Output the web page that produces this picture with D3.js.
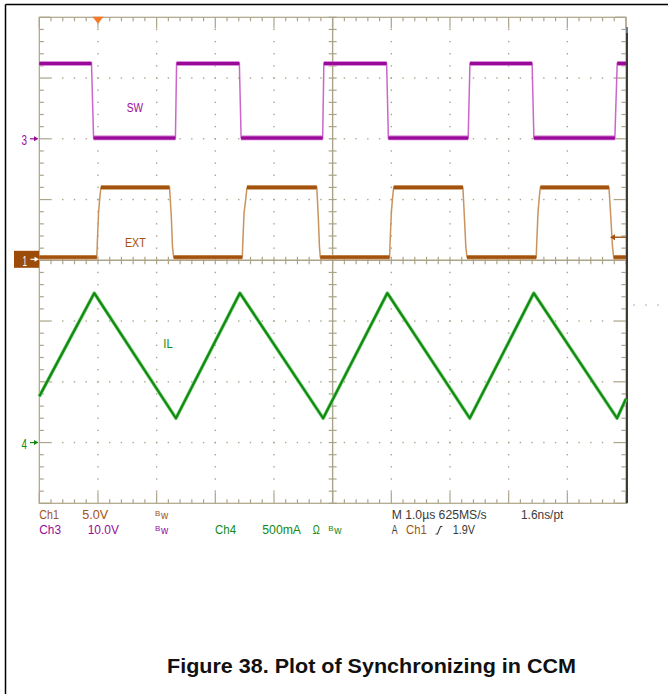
<!DOCTYPE html>
<html>
<head>
<meta charset="utf-8">
<script src="https://cdn.jsdelivr.net/npm/d3@7"></script>
<style>
  body { margin: 0; background: #fff; }
  svg { display: block; }
  text { font-family: "Liberation Sans", Arial, sans-serif; }
</style>
</head>
<body>
<script>
//Time base: 1.0 us per division, 10 divisions across
var timeDomain = [0, 10];

//Ch3 - SW node voltage (V), 10 V/div
var swTime = [0, 0.89, 0.925, 2.32, 2.34, 3.41, 3.44, 4.83, 4.85, 5.92, 5.95, 7.31, 7.34, 8.40, 8.43, 9.81, 9.85, 10];
var swVolt = [12.4, 12.4, 0.15, 0.15, 12.4, 12.4, 0.15, 0.15, 12.4, 12.4, 0.15, 0.15, 12.4, 12.4, 0.15, 0.15, 12.4, 12.4];

//Ch1 - EXT sync clock (V), 5 V/div
var extTime = [0, 0.98, 0.99, 1.01, 1.03, 1.05, 2.22, 2.25, 2.27, 2.29,
               3.46, 3.47, 3.49, 3.52, 3.54, 4.73, 4.755, 4.775, 4.79,
               5.97, 5.98, 6.00, 6.02, 6.04, 7.22, 7.245, 7.27, 7.29,
               8.47, 8.48, 8.50, 8.52, 8.54, 9.71, 9.74, 9.77, 9.79, 10];
var extVolt = [0.25, 0.25, 1.6, 3.9, 5.1, 6.0, 6.0, 3.6, 1.1, 0.25,
               0.25, 1.6, 3.9, 5.1, 6.0, 6.0, 3.6, 1.1, 0.25,
               0.25, 1.6, 3.9, 5.1, 6.0, 6.0, 3.6, 1.1, 0.25,
               0.25, 1.6, 3.9, 5.1, 6.0, 6.0, 3.6, 1.1, 0.25, 0.25];

//Ch4 - inductor current IL (A), 500 mA/div
var ilTime = [0, 0.937, 2.329, 3.419, 4.838, 5.932, 7.337, 8.428, 9.847, 10];
var ilAmp  = [0.38, 1.23, 0.20, 1.23, 0.20, 1.23, 0.20, 1.23, 0.20, 0.36];

//Channel settings: scale per division and ground offset (divisions from centre)
var channels = {
    ch1: {perDiv: 5,   offset: 0,  dark: "#a3520f", light: "#c9935e"},
    ch3: {perDiv: 10,  offset: 2,  dark: "#990a99", light: "#cc66cc"},
    ch4: {perDiv: 0.5, offset: -3, dark: "#128a12", light: "#7fd37f"}
};

var triggerLevel = 1.9;   //V on Ch1
var triggerTime = 1.0;    //us

//Status read-out lines
var statusRow1 = [
    {text: "Ch1", x: 39.3, w: 19.5, c: "ch1"},
    {text: "5.0V", x: 82.3, w: 26, c: "ch1"},
    {text: "M 1.0\u00b5s 625MS/s", x: 391.7, w: 95, c: "k"},
    {text: "1.6ns/pt", x: 521, w: 42.3, c: "k"}
];
var statusRow2 = [
    {text: "Ch3", x: 39.3, w: 21.7, c: "ch3"},
    {text: "10.0V", x: 87.7, w: 31.3, c: "ch3"},
    {text: "Ch4", x: 215, w: 21, c: "ch4"},
    {text: "500mA", x: 262.3, w: 38.7, c: "ch4"},
    {text: "\u03a9", x: 312.7, w: 7, c: "ch4"},
    {text: "A", x: 391.7, w: 5.8, c: "k"},
    {text: "Ch1", x: 406, w: 20.7, c: "ch1"},
    {text: "1.9V", x: 452.7, w: 22.3, c: "k"}
];

//Graticule placement
var W = 668, H = 694;
var grid = {left: 39.3, right: 626, top: 17.3, bottom: 503.3};
var tan = "#aca488";
var darkText = "#3a3a3a";

const svg = d3.select("body").append("svg")
    .attr("width", W).attr("height", H)
    .attr("viewBox", [0, 0, W, H]);

//Scales
const x = d3.scaleLinear().domain(timeDomain).range([grid.left, grid.right]);
const yDiv = d3.scaleLinear().domain([4, -4]).range([grid.top, grid.bottom]);
function chY(ch, v) { return yDiv(ch.offset + v / ch.perDiv); }

//Page frame
svg.append("line").attr("x1", 5.5).attr("x2", W).attr("y1", 4.5).attr("y2", 4.5)
    .attr("stroke", "#000").attr("stroke-width", 1.5);
svg.append("line").attr("x1", 5.5).attr("x2", 5.5).attr("y1", 4.5).attr("y2", H)
    .attr("stroke", "#000").attr("stroke-width", 1.5);

//GRATICULE
const g = svg.append("g");
g.append("rect")
    .attr("x", grid.left).attr("y", grid.top)
    .attr("width", grid.right - grid.left).attr("height", grid.bottom - grid.top)
    .attr("fill", "none").attr("stroke", tan).attr("stroke-width", 1.2);

const xMinor = d3.range(0, 10.01, 0.2);
const yMinor = d3.range(-4, 4.01, 0.2);
const isMajor = d => Math.abs(d - Math.round(d)) < 1e-6;

//Edge ticks
xMinor.forEach(function(d) {
    var len = isMajor(d) ? 11 : 4;
    g.append("line").attr("x1", x(d)).attr("x2", x(d)).attr("y1", grid.top).attr("y2", grid.top + len)
        .attr("stroke", tan).attr("stroke-width", 1.2);
    g.append("line").attr("x1", x(d)).attr("x2", x(d)).attr("y1", grid.bottom).attr("y2", grid.bottom - len)
        .attr("stroke", tan).attr("stroke-width", 1.2);
});
yMinor.forEach(function(d) {
    var len = isMajor(d) ? 11 : 4.5;
    g.append("line").attr("x1", grid.left).attr("x2", grid.left + len).attr("y1", yDiv(d)).attr("y2", yDiv(d))
        .attr("stroke", tan).attr("stroke-width", 1.2);
    g.append("line").attr("x1", grid.right).attr("x2", grid.right - len).attr("y1", yDiv(d)).attr("y2", yDiv(d))
        .attr("stroke", tan).attr("stroke-width", 1.2);
});

//Dotted major lines
[1, 2, 3, 4, 6, 7, 8, 9].forEach(function(dx) {
    yMinor.slice(1, -1).forEach(function(dy) {
        g.append("rect").attr("x", x(dx) - 0.7).attr("y", yDiv(dy) - 0.7)
            .attr("width", 1.4).attr("height", 1.4).attr("fill", tan);
    });
});
[-3, -2, -1, 1, 2, 3].forEach(function(dy) {
    xMinor.slice(1, -1).forEach(function(dx) {
        g.append("rect").attr("x", x(dx) - 0.7).attr("y", yDiv(dy) - 0.7)
            .attr("width", 1.4).attr("height", 1.4).attr("fill", tan);
    });
});

//Centre axes with ticks
g.append("line").attr("x1", grid.left).attr("x2", grid.right).attr("y1", yDiv(0)).attr("y2", yDiv(0))
    .attr("stroke", tan).attr("stroke-width", 1.4);
g.append("line").attr("x1", x(5)).attr("x2", x(5)).attr("y1", grid.top).attr("y2", grid.bottom)
    .attr("stroke", tan).attr("stroke-width", 1.4);
xMinor.forEach(function(d) {
    g.append("line").attr("x1", x(d)).attr("x2", x(d)).attr("y1", yDiv(0) - 3.5).attr("y2", yDiv(0) + 4)
        .attr("stroke", tan).attr("stroke-width", 1.2);
});
yMinor.forEach(function(d) {
    g.append("line").attr("x1", x(5) - 4).attr("x2", x(5) + 4).attr("y1", yDiv(d)).attr("y2", yDiv(d))
        .attr("stroke", tan).attr("stroke-width", 1.2);
});

//Dark right edge of the display
svg.append("line").attr("x1", grid.right + 1).attr("x2", grid.right + 1).attr("y1", 27).attr("y2", grid.bottom)
    .attr("stroke", "#3c3c34").attr("stroke-width", 2);
svg.append("line").attr("x1", grid.right + 1).attr("x2", grid.right + 1).attr("y1", 27).attr("y2", 33)
    .attr("stroke", "#6a7a8a").attr("stroke-width", 2);

//Stray dots to the right
[634, 646, 658].forEach(function(px) {
    svg.append("rect").attr("x", px - 0.7).attr("y", 304.3).attr("width", 1.4).attr("height", 1.4).attr("fill", "#b0b0b0");
});

//TRACES
const line = d3.line();
function drawTrace(times, vals, ch) {
    var pts = times.map((t, i) => [x(t), chY(ch, vals[i])]);
    var tg = svg.append("g");
    tg.append("path").attr("d", line(pts)).attr("fill", "none")
        .attr("stroke", ch.light).attr("stroke-width", 1.5);
    //flat parts carry the noise band
    for (var i = 0; i < pts.length - 1; i++) {
        if (vals[i] === vals[i + 1]) {
            tg.append("line").attr("x1", pts[i][0]).attr("x2", pts[i + 1][0])
                .attr("y1", pts[i][1]).attr("y2", pts[i][1])
                .attr("stroke", ch.light).attr("stroke-width", 4.6);
            tg.append("line").attr("x1", pts[i][0]).attr("x2", pts[i + 1][0])
                .attr("y1", pts[i][1]).attr("y2", pts[i][1])
                .attr("stroke", ch.dark).attr("stroke-width", 3);
        }
    }
}
drawTrace(swTime, swVolt, channels.ch3);
drawTrace(extTime, extVolt, channels.ch1);

var ilPts = ilTime.map((t, i) => [x(t), chY(channels.ch4, ilAmp[i])]);
svg.append("path").attr("d", line(ilPts)).attr("fill", "none")
    .attr("stroke", channels.ch4.light).attr("stroke-width", 3.6).attr("stroke-linejoin", "round");
svg.append("path").attr("d", line(ilPts)).attr("fill", "none")
    .attr("stroke", channels.ch4.dark).attr("stroke-width", 2.2).attr("stroke-linejoin", "round");

//Trace labels
function label(txt, px, py, w, color, size) {
    svg.append("text").attr("x", px).attr("y", py).text(txt)
        .attr("fill", color).attr("font-size", size || 13)
        .attr("textLength", w).attr("lengthAdjust", "spacingAndGlyphs");
}
label("SW", 126.7, 111.7, 16.3, channels.ch3.dark);
label("EXT", 125, 247.3, 20.7, channels.ch1.dark);
label("IL", 163.3, 347.7, 9.4, channels.ch4.dark);

//Ground markers on the left
function arrow(px, py, color) {
    svg.append("path").attr("d", `M${px},${py}H${px + 5}`).attr("stroke", color).attr("stroke-width", 1.2);
    svg.append("path").attr("d", `M${px + 4},${py - 2.5}L${px + 8.5},${py}L${px + 4},${py + 2.5}Z`).attr("fill", color);
}
var g3 = chY(channels.ch3, 0), g1 = chY(channels.ch1, 0), g4 = chY(channels.ch4, 0);
label("3", 21.5, g3 + 6, 5.5, channels.ch3.dark, 15);
arrow(30, g3, channels.ch3.dark);
label("4", 21.5, g4 + 6, 5.5, channels.ch4.dark, 15);
arrow(30, g4, channels.ch4.dark);
svg.append("rect").attr("x", 14).attr("y", g1 - 9.5).attr("width", 25).attr("height", 17)
    .attr("fill", "#9c4c08");
label("1", 22.5, g1 + 5.5, 4.5, "#fff", 15);
arrow(30.5, g1 - 1, "#fff");

//Trigger position marker (top) and trigger level (right)
svg.append("path")
    .attr("d", `M${x(triggerTime) - 5.5},${grid.top - 0.5}L${x(triggerTime) + 5.5},${grid.top - 0.5}L${x(triggerTime)},${grid.top + 6.5}Z`)
    .attr("fill", "#f47a2a");
var ty = chY(channels.ch1, triggerLevel);
svg.append("line").attr("x1", grid.right - 14).attr("x2", grid.right).attr("y1", ty).attr("y2", ty)
    .attr("stroke", channels.ch1.dark).attr("stroke-width", 1.4);
svg.append("path").attr("d", `M${grid.right - 16},${ty}L${grid.right - 11},${ty - 3}L${grid.right - 11},${ty + 3}Z`)
    .attr("fill", channels.ch1.dark);

//STATUS READ-OUT
var colorOf = c => c === "k" ? darkText : channels[c].dark;
function statusRow(rows, py) {
    rows.forEach(function(r) {
        label(r.text, r.x, py, r.w, colorOf(r.c), 12.5);
    });
}
statusRow(statusRow1, 519.3);
statusRow(statusRow2, 534);

//Bandwidth limit glyphs
function bw(px, py, color) {
    svg.append("text").attr("x", px).attr("y", py - 3).text("B").attr("fill", color).attr("font-size", 8);
    svg.append("text").attr("x", px + 6).attr("y", py).text("w").attr("fill", color).attr("font-size", 10);
}
bw(155, 519.3, channels.ch1.dark);
bw(155, 534, channels.ch3.dark);
bw(328.3, 534, channels.ch4.dark);

//Rising edge glyph
svg.append("path").attr("d", "M435.5,534H437.5L440.5,526.5H442.5")
    .attr("fill", "none").attr("stroke", darkText).attr("stroke-width", 1.1);

//Caption
svg.append("text").attr("x", 167).attr("y", 673)
    .text("Figure 38. Plot of Synchronizing in CCM")
    .attr("font-weight", "bold").attr("font-size", 20).attr("fill", "#111")
    .attr("textLength", 409).attr("lengthAdjust", "spacingAndGlyphs");
</script>
</body>
</html>
